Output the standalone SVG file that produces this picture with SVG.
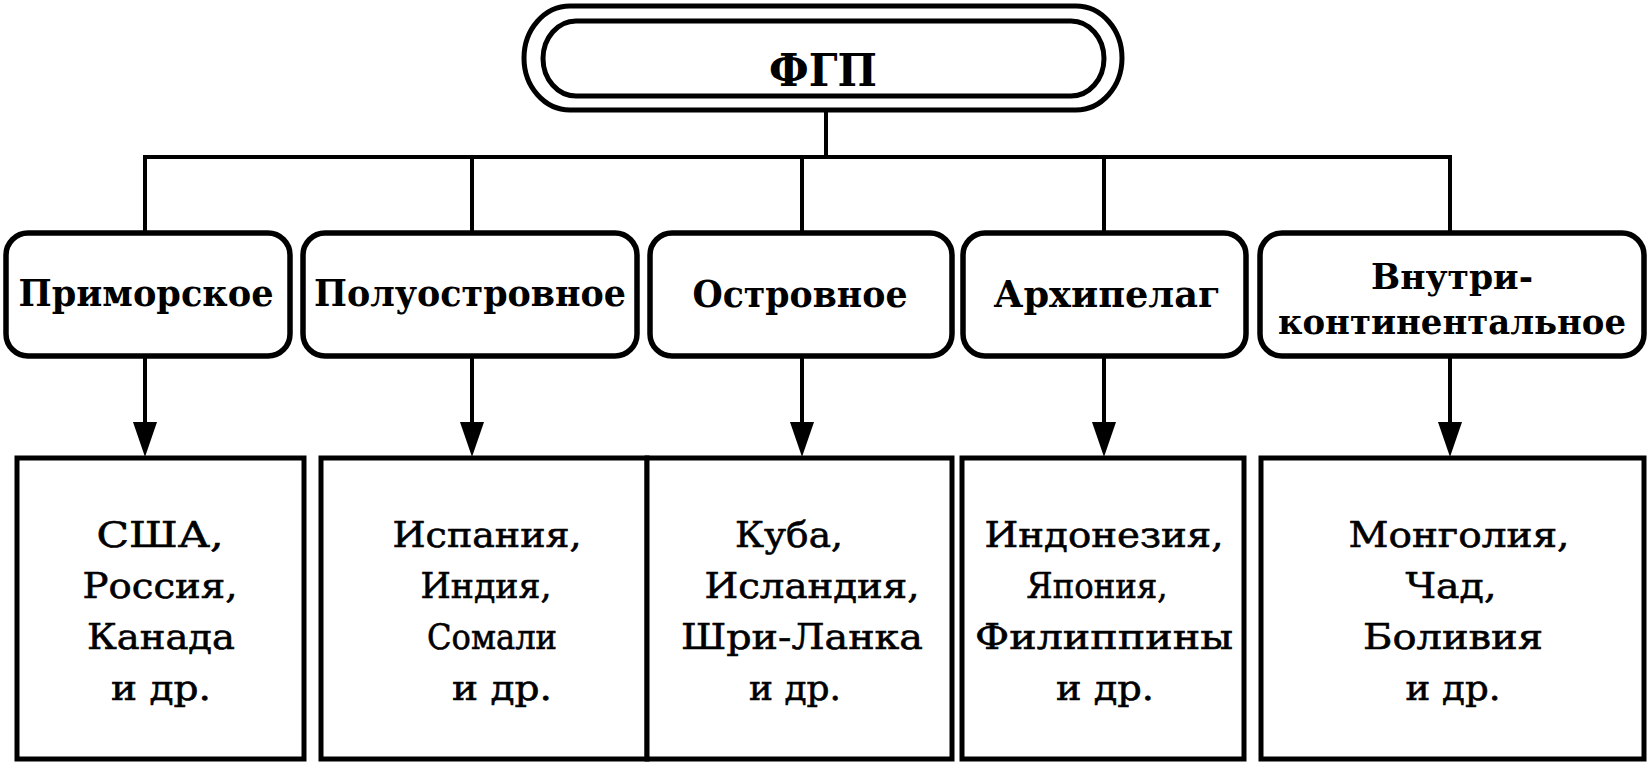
<svg xmlns="http://www.w3.org/2000/svg" width="1648" height="768" viewBox="0 0 1648 768">
<style>
  .bg { fill: #ffffff; }
  .pill { fill: none; stroke: #000; stroke-width: 5; }
  .cat { fill: #ffffff; stroke: #000; stroke-width: 5.5; }
  .ex { fill: #ffffff; stroke: #000; stroke-width: 5; }
  .ln { fill: none; stroke: #000; stroke-width: 4; }
  .head { fill: #000; }
  .title { font-family: "DejaVu Serif", "Liberation Serif", serif; font-weight: bold; font-size: 45px; fill: #000; text-anchor: middle; }
  .lbl { font-family: "DejaVu Serif", "Liberation Serif", serif; font-weight: bold; font-size: 38px; fill: #000; text-anchor: middle; }
  .lbl2 { font-family: "DejaVu Serif", "Liberation Serif", serif; font-weight: bold; font-size: 36px; fill: #000; text-anchor: middle; }
  .txt { font-family: "DejaVu Serif", "Liberation Serif", serif; font-size: 36px; fill: #000; stroke: #000; stroke-width: 0.6; text-anchor: middle; }
</style>
<rect class="bg" x="0" y="0" width="1648" height="768"/>

<g id="connectors">
  <line class="ln" x1="826" y1="110" x2="826" y2="157"/>
  <line class="ln" x1="143" y1="157" x2="1452" y2="157"/>
  <line class="ln" x1="145" y1="155" x2="145" y2="233"/>
  <line class="ln" x1="472" y1="157" x2="472" y2="233"/>
  <line class="ln" x1="802" y1="157" x2="802" y2="233"/>
  <line class="ln" x1="1104" y1="157" x2="1104" y2="233"/>
  <line class="ln" x1="1450" y1="155" x2="1450" y2="233"/>

  <line class="ln" x1="145" y1="356" x2="145" y2="430"/>
  <polygon class="head" points="133,422 157,422 145,457"/>
  <line class="ln" x1="472" y1="356" x2="472" y2="430"/>
  <polygon class="head" points="460,422 484,422 472,457"/>
  <line class="ln" x1="802" y1="356" x2="802" y2="430"/>
  <polygon class="head" points="790,422 814,422 802,457"/>
  <line class="ln" x1="1104" y1="356" x2="1104" y2="430"/>
  <polygon class="head" points="1092,422 1116,422 1104,457"/>
  <line class="ln" x1="1450" y1="356" x2="1450" y2="430"/>
  <polygon class="head" points="1438,422 1462,422 1450,457"/>
</g>

<g id="node-fgp">
  <rect class="pill" x="524" y="6" width="598" height="104" rx="46" ry="52"/>
  <rect class="pill" x="543" y="21" width="561" height="75" rx="33" ry="37.5"/>
  <text class="title" x="823" y="86" textLength="108" lengthAdjust="spacingAndGlyphs">ФГП</text>
</g>

<g id="node-primorskoe">
  <rect class="cat" x="6" y="233" width="284" height="123" rx="22"/>
  <text class="lbl" x="146" y="306" textLength="255" lengthAdjust="spacingAndGlyphs">Приморское</text>
</g>
<g id="node-poluostrovnoe">
  <rect class="cat" x="303" y="233" width="334" height="123" rx="22"/>
  <text class="lbl" x="470" y="306" textLength="312" lengthAdjust="spacingAndGlyphs">Полуостровное</text>
</g>
<g id="node-ostrovnoe">
  <rect class="cat" x="650" y="233" width="302" height="123" rx="22"/>
  <text class="lbl" x="800" y="307" textLength="215" lengthAdjust="spacingAndGlyphs">Островное</text>
</g>
<g id="node-arkhipelag">
  <rect class="cat" x="963" y="233" width="283" height="123" rx="22"/>
  <text class="lbl" x="1107" y="307" textLength="227" lengthAdjust="spacingAndGlyphs">Архипелаг</text>
</g>
<g id="node-vnutrikontinentalnoe">
  <rect class="cat" x="1260" y="233" width="384" height="123" rx="22"/>
  <text class="lbl2" x="1452" y="289" textLength="162" lengthAdjust="spacingAndGlyphs">Внутри-</text>
  <text class="lbl2" x="1452" y="334" textLength="348" lengthAdjust="spacingAndGlyphs">континентальное</text>
</g>

<g id="examples-primorskoe">
  <rect class="ex" x="17" y="458" width="287" height="301"/>
  <text class="txt" x="160" y="547" textLength="127" lengthAdjust="spacingAndGlyphs">США,</text>
  <text class="txt" x="160" y="598" textLength="155" lengthAdjust="spacingAndGlyphs">Россия,</text>
  <text class="txt" x="161" y="649" textLength="148" lengthAdjust="spacingAndGlyphs">Канада</text>
  <text class="txt" x="161" y="700" textLength="100" lengthAdjust="spacingAndGlyphs">и др.</text>
</g>
<g id="examples-poluostrovnoe">
  <rect class="ex" x="321" y="458" width="326" height="301"/>
  <text class="txt" x="487" y="547" textLength="189" lengthAdjust="spacingAndGlyphs">Испания,</text>
  <text class="txt" x="486" y="598" textLength="131" lengthAdjust="spacingAndGlyphs">Индия,</text>
  <text class="txt" x="492" y="649" textLength="130" lengthAdjust="spacingAndGlyphs">Сомали</text>
  <text class="txt" x="502" y="700" textLength="100" lengthAdjust="spacingAndGlyphs">и др.</text>
</g>
<g id="examples-ostrovnoe">
  <rect class="ex" x="647" y="458" width="305" height="301"/>
  <text class="txt" x="789" y="547" textLength="108" lengthAdjust="spacingAndGlyphs">Куба,</text>
  <text class="txt" x="812" y="598" textLength="215" lengthAdjust="spacingAndGlyphs">Исландия,</text>
  <text class="txt" x="802" y="649" textLength="242" lengthAdjust="spacingAndGlyphs">Шри-Ланка</text>
  <text class="txt" x="795" y="700" textLength="92" lengthAdjust="spacingAndGlyphs">и др.</text>
</g>
<g id="examples-arkhipelag">
  <rect class="ex" x="962" y="458" width="282" height="301"/>
  <text class="txt" x="1104" y="547" textLength="239" lengthAdjust="spacingAndGlyphs">Индонезия,</text>
  <text class="txt" x="1097" y="598" textLength="141" lengthAdjust="spacingAndGlyphs">Япония,</text>
  <text class="txt" x="1104" y="649" textLength="258" lengthAdjust="spacingAndGlyphs">Филиппины</text>
  <text class="txt" x="1105" y="700" textLength="98" lengthAdjust="spacingAndGlyphs">и др.</text>
</g>
<g id="examples-vnutrikontinentalnoe">
  <rect class="ex" x="1261" y="458" width="383" height="301"/>
  <text class="txt" x="1459" y="547" textLength="221" lengthAdjust="spacingAndGlyphs">Монголия,</text>
  <text class="txt" x="1451" y="598" textLength="91" lengthAdjust="spacingAndGlyphs">Чад,</text>
  <text class="txt" x="1453" y="649" textLength="180" lengthAdjust="spacingAndGlyphs">Боливия</text>
  <text class="txt" x="1453" y="700" textLength="95" lengthAdjust="spacingAndGlyphs">и др.</text>
</g>
</svg>
